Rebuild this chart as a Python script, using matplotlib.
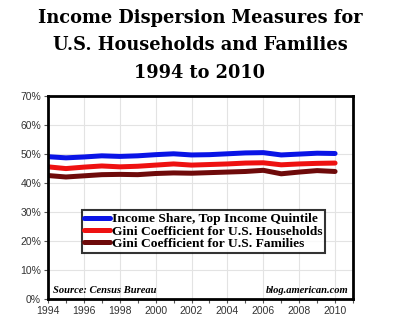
import matplotlib
matplotlib.use("Agg")
import matplotlib.pyplot as plt
from matplotlib.ticker import FuncFormatter, MultipleLocator

years = list(range(1994, 2011))
top_quintile_share = [49.1, 48.7, 49.0, 49.4, 49.2, 49.4, 49.8, 50.1, 49.7, 49.8,
                      50.1, 50.4, 50.5, 49.7, 50.0, 50.3, 50.2]
gini_households = [45.6, 45.0, 45.5, 45.9, 45.6, 45.8, 46.2, 46.6, 46.2, 46.4,
                   46.6, 46.9, 47.0, 46.3, 46.6, 46.8, 46.9]
gini_families = [42.6, 42.1, 42.5, 42.9, 43.0, 42.9, 43.3, 43.5, 43.4, 43.6,
                 43.8, 44.0, 44.4, 43.2, 43.8, 44.3, 44.0]

series_labels = ["Income Share, Top Income Quintile",
                 "Gini Coefficient for U.S. Households",
                 "Gini Coefficient for U.S. Families"]
series_colors = ["#0a14e6", "#ee1111", "#6e0a0a"]

title_lines = ["Income Dispersion Measures for",
               "U.S. Households and Families",
               "1994 to 2010"]

fig = plt.figure(figsize=(4.0, 3.36), dpi=100)
ax = fig.add_axes([0.12, 0.11, 0.7625, 0.604])

for vals, lab, col in zip([top_quintile_share, gini_households, gini_families],
                          series_labels, series_colors):
    ax.plot(years, vals, color=col, lw=3.6, label=lab, solid_capstyle="round")

ax.set_xlim(1994, 2011)
ax.set_ylim(0, 70)
ax.xaxis.set_major_locator(MultipleLocator(1))
ax.xaxis.set_major_formatter(FuncFormatter(lambda v, p: f"{int(v)}" if int(v) % 2 == 0 and v < 2011 else ""))
ax.yaxis.set_major_locator(MultipleLocator(10))
ax.yaxis.set_major_formatter(FuncFormatter(lambda v, p: f"{int(v)}%"))

for x in range(1996, 2011, 2):
    ax.axvline(x, color="#e3e3e3", lw=0.8, zorder=0)
for y in range(10, 70, 10):
    ax.axhline(y, color="#e3e3e3", lw=0.8, zorder=0)

for s in ax.spines.values():
    s.set_linewidth(2)
ax.tick_params(axis="both", direction="out", length=3, width=0.8, color="#555555",
               labelsize=7.5, labelcolor="#333333", pad=2)
for t in ax.get_xticklabels() + ax.get_yticklabels():
    t.set_fontfamily("Liberation Sans")

leg = ax.legend(loc="center", bbox_to_anchor=(0.51, 0.333), frameon=True, fancybox=False,
                edgecolor="black", handlelength=1.9, handletextpad=0.15,
                borderpad=0.2, labelspacing=0.0, borderaxespad=0,
                prop={"family": "Liberation Serif", "weight": "bold", "size": 9.7})
leg.get_frame().set_linewidth(1.5)

ax.text(0.015, 0.02, "Source: Census Bureau", transform=ax.transAxes,
        family="Liberation Serif", style="italic", weight="bold", size=7.6, ha="left", va="bottom")
ax.text(0.985, 0.02, "blog.american.com", transform=ax.transAxes,
        family="Liberation Serif", style="italic", weight="bold", size=7.6, ha="right", va="bottom")

# three title lines, stacked from the top of the figure
for i, line in enumerate(title_lines):
    fig.text(0.5, 1 - (18 + 27.5 * i) / 336, line, ha="center", va="center",
             family="DejaVu Serif", weight="bold", size=12.8)

fig.savefig("out.png", dpi=100)
